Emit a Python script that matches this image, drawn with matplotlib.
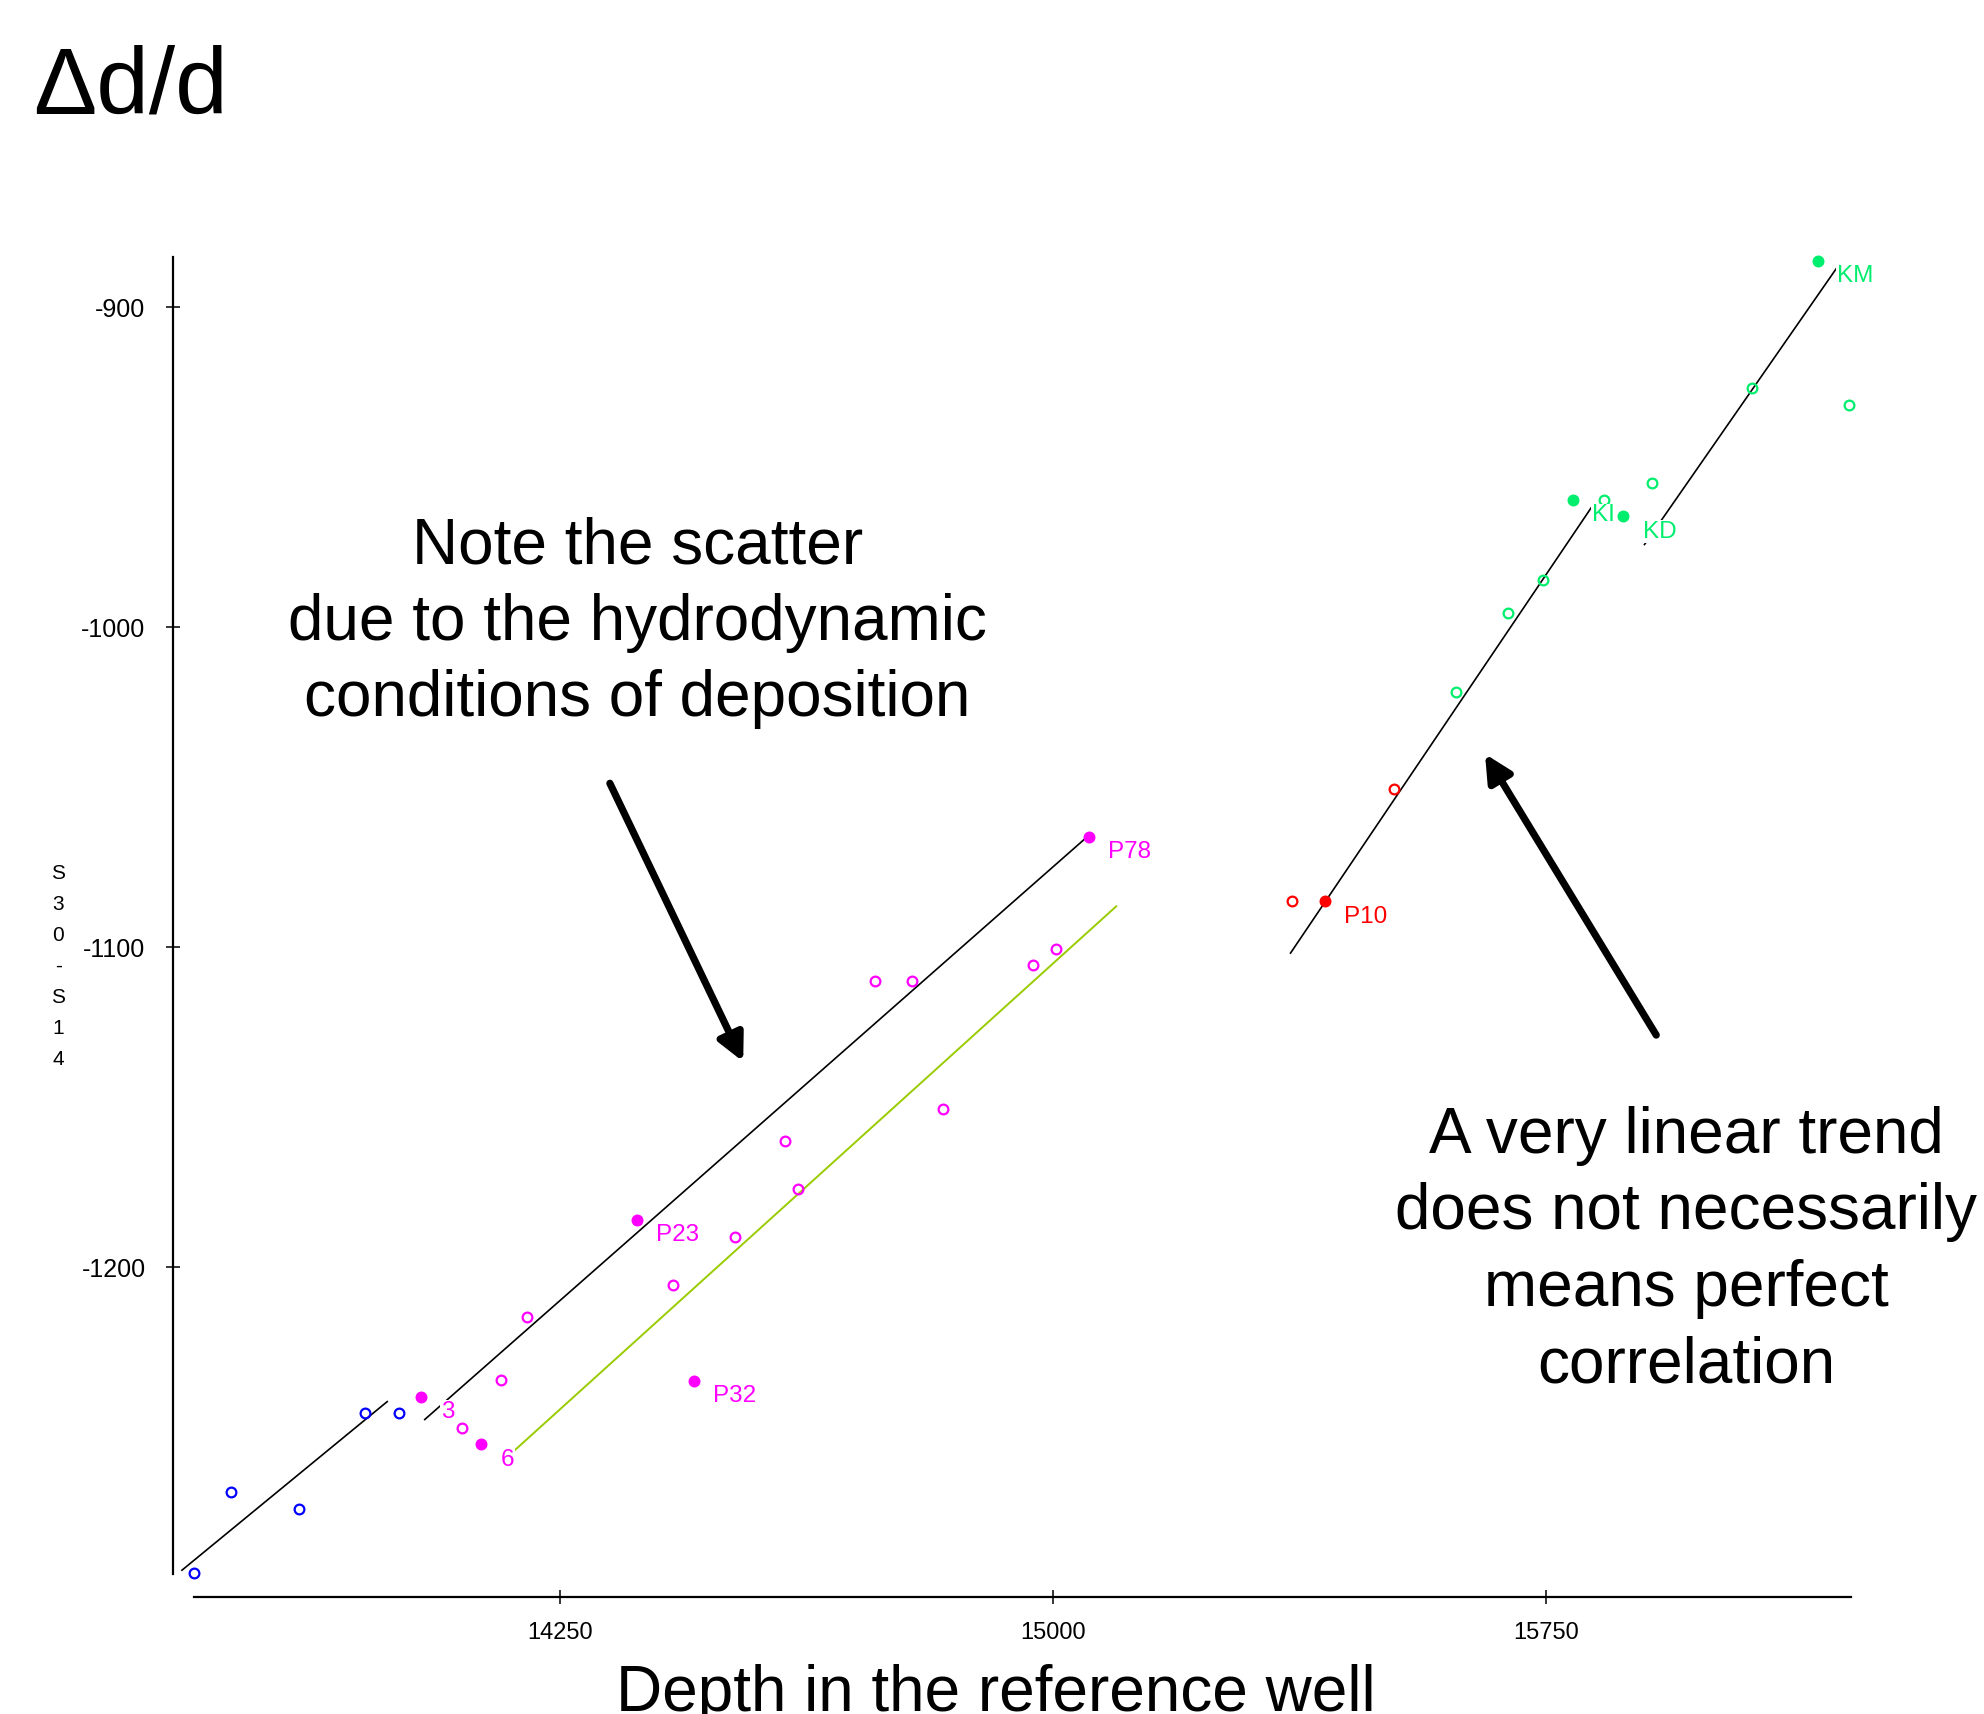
import matplotlib
matplotlib.use("Agg")
import matplotlib.pyplot as plt

plt.rcParams['font.family'] = ['Liberation Sans', 'DejaVu Sans']

# ---- data ----
blue_x = [13694, 13750, 13854, 13954, 14006]
blue_y = [-1295.7, -1270.4, -1275.5, -1245.5, -1245.5]

mag_x = [14101, 14161, 14201, 14423, 14517, 14592, 14613, 14729, 14785, 14833, 14969, 15004]
mag_y = [-1250.3, -1235.4, -1215.4, -1205.5, -1190.5, -1160.4, -1175.4, -1110.5, -1110.5, -1150.5, -1105.4, -1100.6]
magf_x = [14040, 14131, 14367, 14454, 15054]
magf_y = [-1240.5, -1255.4, -1185.3, -1235.6, -1065.4]
magf_lab = ['3', '6', 'P23', 'P32', 'P78']

red_x = [15363, 15519]
red_y = [-1085.6, -1050.4]
redf_x = [15413]
redf_y = [-1085.6]
redf_lab = ['P10']

green_x = [15613, 15692, 15744, 15838, 15910, 16063, 16210]
green_y = [-1020.3, -995.4, -985.1, -960.2, -955.0, -925.3, -930.5]
greenf_x = [15790, 15867, 16162]
greenf_y = [-960.2, -965.3, -885.4]
greenf_lab = ['KI', 'KD', 'KM']

# trend lines (end points)
trend_x = [[13676, 13988], [14045, 15050], [15361, 15818], [15899, 16191]]
trend_y = [[-1294.7, -1242.0], [-1247.6, -1065.8], [-1101.8, -962.6], [-974.1, -887.7]]
shift_x = [14170, 15096]
shift_y = [-1259.4, -1087.2]

xticks = [14250, 15000, 15750]
yticks = [-900, -1000, -1100, -1200]

fig = plt.figure(figsize=(19.84, 17.14), dpi=100)
ax = fig.add_axes([0.0874, 0.0684, 0.8456, 0.7817])

mk = dict(marker='o', ms=7, ls='none', clip_on=False, zorder=3)
ax.plot(blue_x, blue_y, mfc='none', mec='#0000ff', mew=1.6, **mk)

groups = [(mag_x, mag_y, magf_x, magf_y, magf_lab, '#ff00ff'),
          (red_x, red_y, redf_x, redf_y, redf_lab, '#ff0000'),
          (green_x, green_y, greenf_x, greenf_y, greenf_lab, '#00ee6e')]
for ox, oy, fx, fy, labs, c in groups:
    ax.plot(ox, oy, mfc='none', mec=c, mew=1.6, **mk)
    ax.plot(fx, fy, mfc=c, mec=c, mew=1.6, **mk)
    for x, y, t in zip(fx, fy, labs):
        ax.annotate(t, (x, y), xytext=(14, -11), textcoords='offset points',
                    ha='left', va='center', fontsize=17.5, color=c, zorder=4,
                    bbox=dict(fc='white', ec='none', pad=0.5))

for lx, ly in zip(trend_x, trend_y):
    ax.plot(lx, ly, color='black', lw=1.2, zorder=2, clip_on=False)
ax.plot(shift_x, shift_y, color='#99cc00', lw=1.4, zorder=2)

ax.set_xlim(13663, 16213)
ax.set_ylim(-1303, -884.2)
ax.set_xticks(xticks)
ax.set_yticks(yticks)
ax.set_yticklabels([str(v) for v in yticks], fontsize=18)
ax.set_xticklabels([str(v) for v in xticks], fontsize=17)
for s in ['top', 'right']:
    ax.spines[s].set_visible(False)
ax.spines['left'].set_bounds(-1296, -884.2)
ax.spines['bottom'].set_bounds(13694, 16213)
ax.spines['left'].set_linewidth(1.6)
ax.spines['bottom'].set_linewidth(1.6)
ax.tick_params(axis='y', direction='inout', length=10, width=1.1, pad=15)
ax.tick_params(axis='x', direction='inout', length=10, width=1.1, pad=13)

# y label as stacked letters
fig.text(0.0294, 0.4364, "\n".join("S30-S14"), ha='center', va='center',
         fontsize=15, linespacing=1.8)

fig.text(0.502, 0.002, "Depth in the reference well", ha='center', va='baseline',
         fontsize=46)
fig.text(0.0165, 0.934, "\u0394d/d", ha='left', va='baseline', fontsize=68)

fig.text(0.3214, 0.6365, "Note the scatter\ndue to the hydrodynamic\nconditions of deposition",
         ha='center', va='center', multialignment='center', fontsize=46, linespacing=1.35)
fig.text(0.850, 0.2705, "A very linear trend\ndoes not necessarily\nmeans perfect\ncorrelation",
         ha='center', va='center', multialignment='center', fontsize=46, linespacing=1.35)

arrow = dict(arrowstyle='-|>', lw=5.2, color='black', mutation_scale=40, shrinkA=0, shrinkB=0)
fig.add_artist(matplotlib.patches.FancyArrowPatch((0.3074, 0.5430), (0.3746, 0.3806),
               transform=fig.transFigure, **arrow))
fig.add_artist(matplotlib.patches.FancyArrowPatch((0.8348, 0.3961), (0.7485, 0.5601),
               transform=fig.transFigure, **arrow))

fig.savefig("out.png", dpi=100, facecolor='white')
